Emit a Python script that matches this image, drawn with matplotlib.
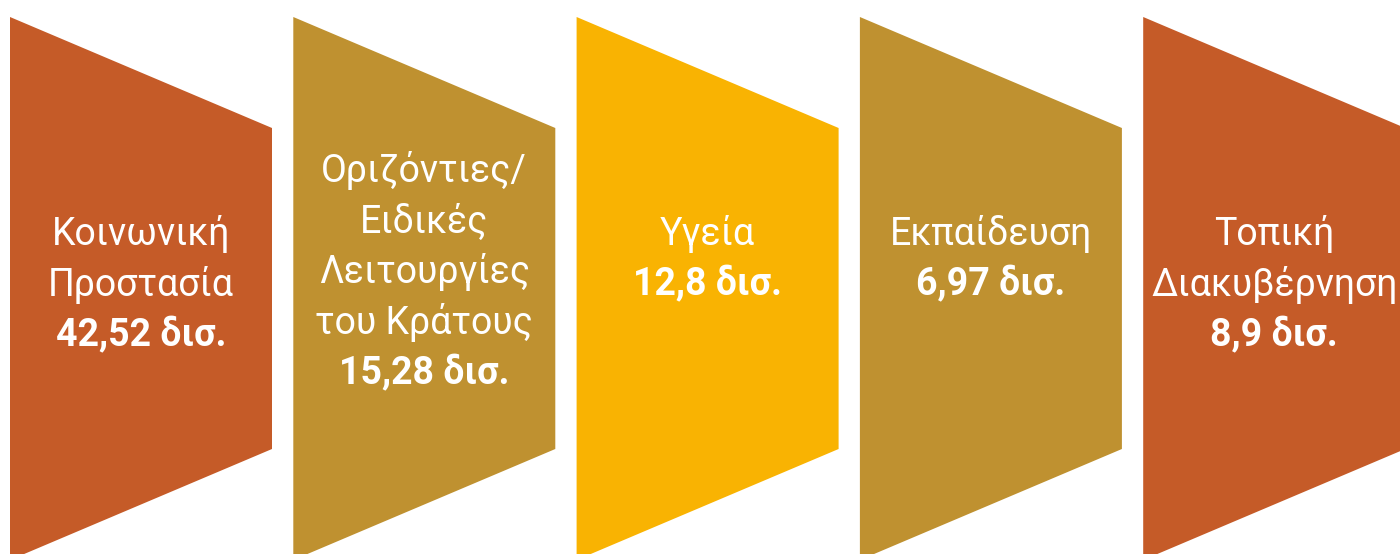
import matplotlib.pyplot as plt
from matplotlib.patches import Polygon

# categories and amounts (billions)
labels = [
    ["Κοινωνική", "Προστασία"],
    ["Οριζόντιες/", "Ειδικές", "Λειτουργίες", "του Κράτους"],
    ["Υγεία"],
    ["Εκπαίδευση"],
    ["Τοπική", "Διακυβέρνηση"],
]
values = [42.52, 15.28, 12.8, 6.97, 8.9]
colors = ["#C55B28", "#BF9130", "#F9B302", "#BF9130", "#C55B28"]

# layout (pixels)
W, H = 1400, 554
x_start, step, width = 10, 283.3, 262
top, bottom = 17, 560
neck_top, neck_bot = 128, 449
first_base = [245, 182, 245, 245, 245]
line_gap = 50.5

fig = plt.figure(figsize=(W / 100, H / 100), dpi=100)
ax = fig.add_axes([0, 0, 1, 1])
ax.set_xlim(0, W)
ax.set_ylim(H, 0)
ax.axis("off")

for i, (lines, v, c) in enumerate(zip(labels, values, colors)):
    x0 = x_start + i * step
    x1 = x0 + width
    pts = [(x0, top), (x1, neck_top), (x1, neck_bot), (x0, bottom)]
    ax.add_patch(Polygon(pts, closed=True, facecolor=c, edgecolor="none"))
    cx = x0 + width / 2
    y = first_base[i]
    for ln in lines:
        ax.text(cx, y, ln, color="white", fontsize=27, family="Roboto",
                ha="center", va="baseline")
        y += line_gap
    val = ("%g" % v).replace(".", ",") + " δισ."
    ax.text(cx, y, val, color="white", fontsize=27, family="Roboto",
            fontweight="bold", ha="center", va="baseline")

fig.savefig("out.png", dpi=100)
